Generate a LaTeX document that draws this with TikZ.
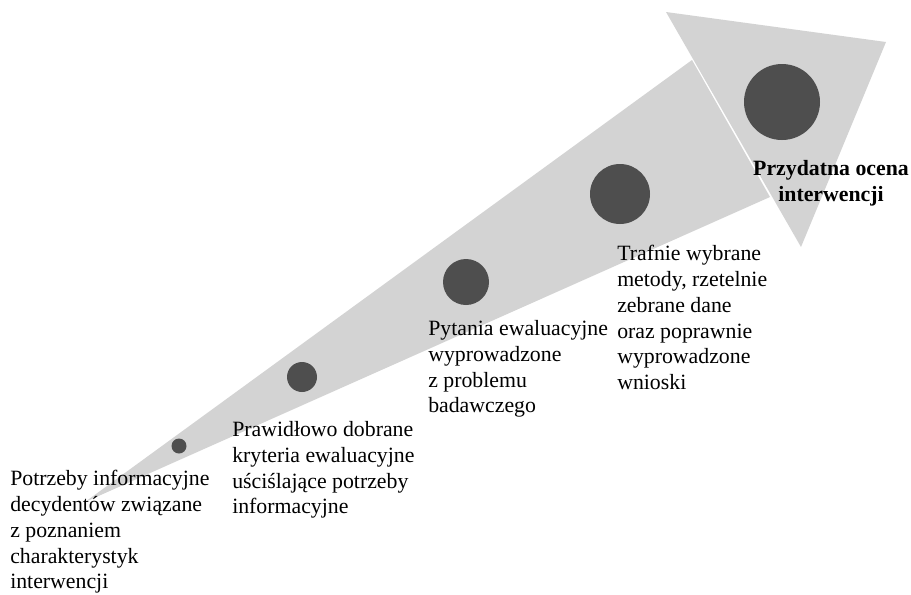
\documentclass[tikz,border=0pt]{standalone}
\usepackage{fontspec}
\setmainfont{Liberation Serif}
\usetikzlibrary{calc}
\definecolor{arrowgray}{RGB}{211,211,211}
\definecolor{dotgray}{RGB}{78,78,78}
\newcommand{\lbl}{\fontsize{16.35}{19.35}\selectfont}

\begin{document}
\begin{tikzpicture}[x=0.75pt,y=-0.75pt]
\tikzstyle{dot}=[circle,fill=dotgray,inner sep=0pt]
\tikzstyle{step text}=[anchor=north west,inner sep=0pt,align=left,font=\lbl]
\useasboundingbox (0,0) rectangle (911,594);

% the big arrow
\coordinate (tail) at (85,502);
\coordinate (up) at (692,60);
\coordinate (low) at (770,197);
\coordinate (h1) at (666,12);
\coordinate (h2) at (886,42);
\coordinate (h3) at (801,247);
\fill[arrowgray] (tail) -- (up) -- (low) -- cycle;
\fill[arrowgray] (h1) -- (h2) -- (h3) -- cycle;

% the dots
\node[dot,minimum size=11.25pt] (d1) at (179,446) {};
\node[dot,minimum size=22.5pt] (d2) at (302,377) {};
\node[dot,minimum size=34.5pt] (d3) at (466,282) {};
\node[dot,minimum size=45pt] (d4) at (620,194) {};
\node[dot,minimum size=57pt] (d5) at (782,102) {};

\node[step text] (t1) at (10,470) {Potrzeby informacyjne\\decydentów związane\\z poznaniem\\charakterystyk\\interwencji};
\node[step text] (t2) at (232,421) {Prawidłowo dobrane\\kryteria ewaluacyjne\\uściślające potrzeby\\informacyjne};
\node[step text] (t3) at (428,320) {Pytania ewaluacyjne\\wyprowadzone\\z problemu\\badawczego};
\node[step text] (t4) at (617,245) {Trafnie wybrane\\metody, rzetelnie\\zebrane dane\\oraz poprawnie\\wyprowadzone\\wnioski};
\node[step text,anchor=north,align=center,font=\lbl\bfseries] (t5) at (831,160) {Przydatna ocena\\interwencji};
\end{tikzpicture}
\end{document}
